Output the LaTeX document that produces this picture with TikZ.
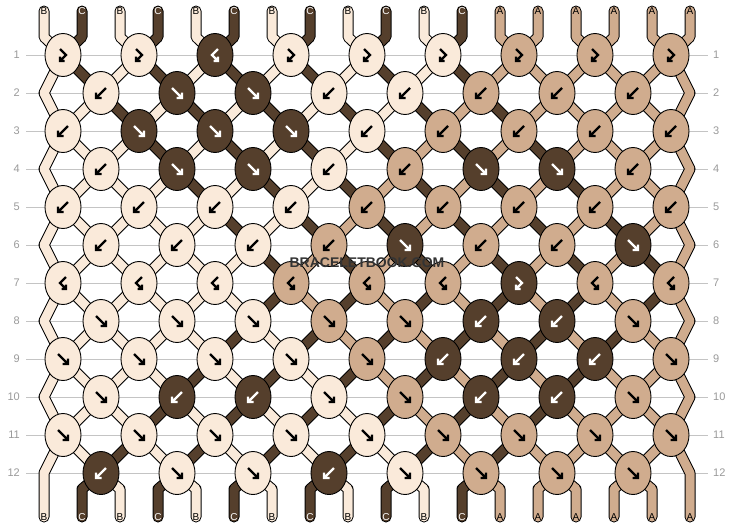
\documentclass[tikz,border=0pt]{standalone}
\usepackage{fontspec}
\setmainfont{Liberation Sans}
\usetikzlibrary{shapes.geometric, positioning}

\definecolor{strA}{HTML}{D0AC8E}
\definecolor{strB}{HTML}{FAEADA}
\definecolor{strC}{HTML}{553F2C}
\colorlet{arrA}{black}
\colorlet{arrB}{black}
\colorlet{arrC}{white}
\definecolor{rowgray}{HTML}{C4C4C4}
\definecolor{numgray}{HTML}{9A9A9A}

\pgfdeclarelayer{grid}
\pgfdeclarelayer{strands}
\pgfsetlayers{grid,strands,main}

\begin{document}
\begin{tikzpicture}[x=1pt, y=-1pt]
    \tikzstyle{knot} = [ellipse, draw, line width=0.9pt, minimum width=36pt, minimum height=43pt, inner sep=0pt]
    \tikzstyle{strand} = [draw=black, line width=1pt, double distance=9pt, line cap=round, line join=round]
    \tikzstyle{tiearrow} = [line width=2.2pt]
    \tikzstyle{rowline} = [draw=rowgray, line width=0.8pt, shorten <=6pt, shorten >=5pt]
    \tikzstyle{rownum} = [text=numgray, inner sep=0pt, font=\fontsize{11}{11}\selectfont]
    \tikzstyle{endlabel} = [inner sep=0pt, font=\fontsize{10}{10}\selectfont]
    \tikzstyle{watermark} = [inner sep=0pt, font=\bfseries\fontsize{14}{14}\selectfont]
    \tikzset{
        kf/.pic={\draw[tiearrow] (-5,-5) -- (5,5) (5,-0.5) -- (5,5) -- (-0.5,5);},
        kb/.pic={\draw[tiearrow] (5,-5) -- (-5,5) (-5,-0.5) -- (-5,5) -- (0.5,5);},
        kfb/.pic={\draw[tiearrow] (-3,-6) -- (3,0) -- (-3,6) (-3,1.5) -- (-3,6) -- (1.5,6);},
        kbf/.pic={\draw[tiearrow] (3,-6) -- (-3,0) -- (3,6) (3,1.5) -- (3,6) -- (-1.5,6);}
    }
    \begin{pgfonlayer}{grid}
        \fill[white] (0,0) rectangle (734,528);
    \end{pgfonlayer}
    \useasboundingbox (0,0) rectangle (734,528);

    % row numbers and guide lines
    \foreach \r in {1,...,12} {
        \node[rownum, anchor=east] (numL\r) at (20, 17+38*\r) {\r};
        \node[rownum, anchor=west] (numR\r) at (713, 17+38*\r) {\r};
        \begin{pgfonlayer}{grid}
            \draw[rowline] (numL\r) -- (numR\r);
        \end{pgfonlayer}
    }

    % knots: type/colour, row by row
    \foreach \row [count=\r] in {
        {fb/B,fb/B,bf/C,fb/B,fb/B,fb/B,fb/A,fb/A,fb/A},
        {b/B,f/C,f/C,b/B,b/B,b/A,b/A,b/A},
        {b/B,f/C,f/C,f/C,b/B,b/A,b/A,b/A,b/A},
        {b/B,f/C,f/C,b/B,b/A,f/C,f/C,b/A},
        {b/B,b/B,b/B,b/B,b/A,b/A,b/A,b/A,b/A},
        {b/B,b/B,b/B,b/A,f/C,b/A,b/A,f/C},
        {bf/B,bf/B,bf/B,bf/A,bf/A,bf/A,fb/C,bf/A,bf/A},
        {f/B,f/B,f/B,f/A,f/A,b/C,b/C,f/A},
        {f/B,f/B,f/B,f/B,f/A,b/C,b/C,b/C,f/A},
        {f/B,b/C,b/C,f/B,f/A,b/C,b/C,f/A},
        {f/B,f/B,f/B,f/B,f/B,f/A,f/A,f/A,f/A},
        {b/C,f/B,f/B,b/C,f/B,f/A,f/A,f/A}} {
        \foreach \t/\c [count=\k] in \row {
            \pgfmathtruncatemacro\col{2*\k-mod(\r,2)}
            \node[knot, fill=str\c] (k\r-\col) at (25+38*\col, 17+38*\r) {};
            \pic[color=arr\c] at (k\r-\col) {k\t};
        }
    }

    % turning points of the two outer strings
    \foreach \r in {2,4,...,12} {
        \coordinate (k\r-0) at (44, 17+38*\r);
        \coordinate (k\r-18) at (690, 17+38*\r);
    }

    % string ends, top and bottom
    \foreach \c [count=\p] in {B,C,B,C,B,C,B,C,B,C,B,C,A,A,A,A,A,A} {
        \node[endlabel, text=arr\c] (t\p) at (6+38*\p, 11) {\c};
        \node[endlabel, text=arr\c] (b\p) at (6+38*\p, 517) {\c};
    }

    \node[watermark, text=black!80] (mark) at (367,263) {BRACELETBOOK.COM};

    \begin{pgfonlayer}{strands}
        % top ends into row 1
        \foreach \c [count=\p] in {B,C,B,C,B,C,B,C,B,C,B,C,A,A,A,A,A,A} {
            \pgfmathtruncatemacro\ca{2*ceil(\p/2)-1}
            \draw[strand, double=str\c] (t\p.center) -- ++(0,26) -- (k1-\ca.center);
        }
        % strings between rows (colours after each row)
        \foreach \state [count=\g] in {
            {B,C,B,C,B,C,B,C,B,C,B,C,A,A,A,A,A,A},
            {B,B,C,B,C,B,C,B,C,B,C,A,C,A,A,A,A,A},
            {B,B,B,C,B,C,B,C,B,C,A,C,A,C,A,A,A,A},
            {B,B,B,B,C,B,C,B,C,A,C,A,C,A,C,A,A,A},
            {B,B,B,B,B,C,B,C,A,C,A,C,A,C,A,C,A,A},
            {B,B,B,B,B,B,C,A,C,A,C,A,C,A,C,A,C,A},
            {B,B,B,B,B,B,C,A,C,A,C,A,C,A,C,A,C,A},
            {B,B,B,B,B,C,B,C,A,C,A,C,A,C,A,C,A,A},
            {B,B,B,B,C,B,C,B,C,A,C,A,C,A,C,A,A,A},
            {B,B,B,C,B,C,B,C,B,C,A,C,A,C,A,A,A,A},
            {B,B,C,B,C,B,C,B,C,B,C,A,C,A,A,A,A,A}} {
            \pgfmathtruncatemacro\gn{\g+1}
            \foreach \c [count=\p] in \state {
                \ifnum\p>1 \ifnum\p<18
                    \pgfmathtruncatemacro\ca{2*ceil(\p/2)-1}
                    \pgfmathtruncatemacro\cb{2*floor(\p/2)}
                    \ifodd\g
                        \draw[strand, double=str\c] (k\g-\ca.center) -- (k\gn-\cb.center);
                    \else
                        \draw[strand, double=str\c] (k\g-\cb.center) -- (k\gn-\ca.center);
                    \fi
                \fi\fi
            }
        }
        % outer strings zigzag at the edges
        \foreach \r in {2,4,...,10} {
            \pgfmathtruncatemacro\ra{\r-1}
            \pgfmathtruncatemacro\rb{\r+1}
            \draw[strand, double=strB] (k\ra-1.center) -- (k\r-0) -- (k\rb-1.center);
            \draw[strand, double=strA] (k\ra-17.center) -- (k\r-18) -- (k\rb-17.center);
        }
        \draw[strand, double=strB] (k11-1.center) -- (k12-0) -- (b1.center);
        \draw[strand, double=strA] (k11-17.center) -- (k12-18) -- (b18.center);
        % row 12 down to the bottom ends
        \foreach \c [count=\p] in {B,C,B,C,B,C,B,C,B,C,B,C,A,A,A,A,A,A} {
            \ifnum\p>1 \ifnum\p<18
                \pgfmathtruncatemacro\cb{2*floor(\p/2)}
                \draw[strand, double=str\c] (k12-\cb.center) -- (b\p.center |- 0,489) -- (b\p.center);
            \fi\fi
        }
    \end{pgfonlayer}
\end{tikzpicture}
\end{document}
